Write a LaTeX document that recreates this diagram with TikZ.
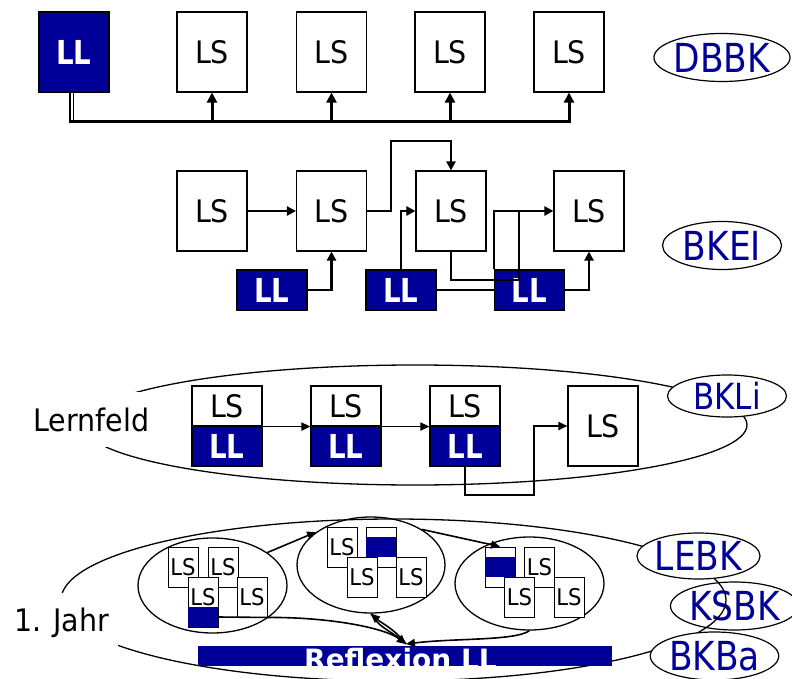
\documentclass[tikz,border=0pt]{standalone}
\usepackage{fontspec}
\setmainfont[FakeStretch=0.92]{DejaVu Sans}
\newfontfamily\tagfont[FakeStretch=0.86]{DejaVu Sans}
\newfontfamily\llfont[FakeStretch=0.84]{DejaVu Sans}
\newfontfamily\barfont{DejaVu Sans}
\usetikzlibrary{arrows.meta,shapes.geometric,calc}
\definecolor{navy}{RGB}{0,0,153}

\tikzset{
  box/.style={draw, line width=1.1pt, inner sep=0pt, minimum width=70pt},
  lsbox/.style={box, fill=white, minimum height=80pt, font=\fontsize{31}{31}\selectfont},
  llbox/.style={box, fill=navy, text=white, minimum height=40pt, font=\llfont\bfseries\fontsize{33}{33}\selectfont},
  halfls/.style={box, fill=white, minimum height=40pt, font=\fontsize{31}{31}\selectfont},
  tag/.style={ellipse, draw, line width=1.2pt, fill=white, inner sep=0pt, text=navy,
    minimum width=119pt, minimum height=48pt, font=\tagfont\fontsize{40}{40}\selectfont},
  sbox/.style={draw, line width=0.9pt, fill=white, inner sep=0pt, minimum width=30pt,
    minimum height=40pt, font=\fontsize{23}{23}\selectfont},
  band/.style={fill=navy, inner sep=0pt, minimum width=30pt, minimum height=20pt},
  group/.style={ellipse, draw, line width=1.3pt, inner sep=0pt},
  field/.style={draw, line width=1.3pt},
  caption/.style={fill=white, inner sep=0pt, text height=24pt, text depth=0pt,
    font=\fontsize{31}{31}\selectfont},
  bus/.style={line width=3pt},
  busarrow/.style={bus, -{Triangle[length=10pt,width=10pt]}},
  flow/.style={line width=2.4pt},
  flowarrow/.style={flow, -{Triangle[length=9pt,width=9pt]}},
  link/.style={line width=1.8pt},
  linkarrow/.style={link, -{Triangle[length=9pt,width=8pt]}},
  loop/.style={line width=1.6pt, -{Triangle[length=9pt,width=8pt]}},
}

\begin{document}
\begin{tikzpicture}[x=1pt,y=-1pt]
\useasboundingbox (0,0) rectangle (792,679);

% ---------- DBBK: one LL feeding all LS ----------
\node[llbox, minimum height=80pt] (t0) at (74,52) {LL};
\node[lsbox] (t1) at (212,52) {LS};
\node[lsbox] (t2) at (331.5,52) {LS};
\node[lsbox] (t3) at (450,52) {LS};
\node[lsbox] (t4) at (569,52) {LS};
\node[tag] (dbbk) at (722,57.5) {DBBK};
\coordinate (j0) at (71.5,122);
\coordinate (j1) at (69,122);
\draw[line width=1.5pt, double, double distance=2pt] (t0.south -| j0) -- (j0);
\draw[busarrow] (j1) -| (t4.south);
\draw[busarrow] (j0 -| t1.south) -- (t1.south);
\draw[busarrow] (j0 -| t2.south) -- (t2.south);
\draw[busarrow] (j0 -| t3.south) -- (t3.south);

% ---------- BKEI: chain with LL inputs ----------
\node[lsbox] (s1) at (212,211) {LS};
\node[lsbox] (s2) at (331.5,211) {LS};
\node[lsbox] (s3) at (451,211) {LS};
\node[lsbox] (s4) at (589,211) {LS};
\node[llbox] (l1) at (272,290) {LL};
\node[llbox] (l2) at (401,290) {LL};
\node[llbox] (l3) at (529.5,290) {LL};
\node[tag] (bkei) at (722,245.5) {BKEI};
\coordinate (k1) at (391,141);
\coordinate (k3) at (519,280);
\draw[flowarrow] (s1.east) -- (s2.west);
\draw[flowarrow] (l1.east) -| (s2.south);
\draw[flowarrow] (s2.east) -| (k1) -| (s3.north);
\draw[flowarrow] (l2.north) |- (s3.west);
\draw[flow] (l2.east) -- (l3.west);
\draw[flowarrow] (s3.south) |- (k3) |- (s4.west);
\draw[flow] (l3.north west) |- (k3 |- s4.west);
\draw[flowarrow] (l3.east) -| (s4.south);

% ---------- BKLi: learning field ----------
\draw[field] (415,425) ellipse [x radius=332, y radius=60];
\node[caption, minimum width=127pt, minimum height=55pt] (lf) at (91.5,419.5) {Lernfeld};
\node[tag, minimum height=42pt, font=\tagfont\fontsize{36}{36}\selectfont] (bkli) at (727,396) {BKLi};
\node[halfls] (p1) at (227,406) {LS};
\node[llbox] (q1) at (227,446) {LL};
\node[halfls] (p2) at (346,406) {LS};
\node[llbox] (q2) at (346,446) {LL};
\node[halfls] (p3) at (465,406) {LS};
\node[llbox] (q3) at (465,446) {LL};
\node[lsbox] (s34) at (603,426) {LS};
\coordinate (k4) at (534,495);
\draw[linkarrow] (p1.south east) -- (p2.south west);
\draw[linkarrow] (p2.south east) -- (p3.south west);
\draw[linkarrow] (q3.south) |- (k4) |- (s34.west);

% ---------- LEBK / KSBK / BKBa: first year ----------
\node[tag, minimum width=115pt] (ksbk) at (734.5,606) {KSBK};
\draw[field] (393.5,600) ellipse [x radius=332.5, y radius=81];
\node[caption, minimum width=113pt, minimum height=53pt] (jahr) at (61.5,619) {1. Jahr};
\node[tag, minimum height=46pt] (lebk) at (698.5,556) {LEBK};
\node[tag] (bkba) at (714.5,656) {BKBa};

\node[group, minimum width=149pt, minimum height=95pt] (e1) at (212.5,585.5) {};
\node[group, minimum width=148pt, minimum height=96pt] (e2) at (371,565) {};
\node[group, minimum width=149pt, minimum height=93pt] (e3) at (529.5,583.5) {};

% first group of learning situations
\node[sbox] (b1) at (183,567) {\raisebox{-3pt}{LS}};
\node[sbox] (b2) at (223,567) {\raisebox{-3pt}{LS}};
\node[sbox, minimum height=50pt] (b3) at (203,602) {};
\node[band] (b3l) at (203,617) {};
\node[inner sep=0pt, font=\fontsize{23}{23}\selectfont] (b3t) at (203,597.5) {LS};
\node[sbox] (b4) at (252,597) {\raisebox{-3pt}{LS}};

% second group
\node[sbox] (c1) at (342,547) {\raisebox{-3pt}{LS}};
\node[sbox] (c2) at (381,547) {};
\node[band] (c2l) at (381,547) {};
\node[sbox] (c3) at (362,577) {\raisebox{-3pt}{LS}};
\node[sbox] (c4) at (411,577) {\raisebox{-3pt}{LS}};

% third group
\node[sbox] (d1) at (500,567) {};
\node[band] (d1l) at (500,567) {};
\node[sbox] (d2) at (539.5,567) {\raisebox{-3pt}{LS}};
\node[sbox] (d3) at (519.5,597) {\raisebox{-3pt}{LS}};
\node[sbox] (d4) at (569,597) {\raisebox{-3pt}{LS}};

% reflection bar
\node[fill=navy, inner sep=0pt, minimum width=414pt, minimum height=20pt] (bar) at (405,656) {};
\begin{scope}
  \clip (bar.south west) rectangle (bar.north east);
  \node[anchor=base west, inner sep=0pt, text=white,
    font=\barfont\bfseries\fontsize{28}{28}\selectfont] (rt) at (304,669) {Reflexion LL};
\end{scope}
\coordinate (r0) at (406,644);

\draw[loop] (e1.31) -- (e2.149);
\draw[loop] (e2.35) -- (d1.north);
\draw[loop] (e2.south) .. controls (378,627) and (392,632) .. (r0);
\draw[loop] (r0) .. controls (396,630) and (380,622) .. (e2.south);
\draw[loop] (e3.south) .. controls (515,641) and (455,638) .. (r0);
\draw[loop] (b3l.east) -- (b4.south east) .. controls (330,617) and (385,628) .. (r0);
\end{tikzpicture}
\end{document}
